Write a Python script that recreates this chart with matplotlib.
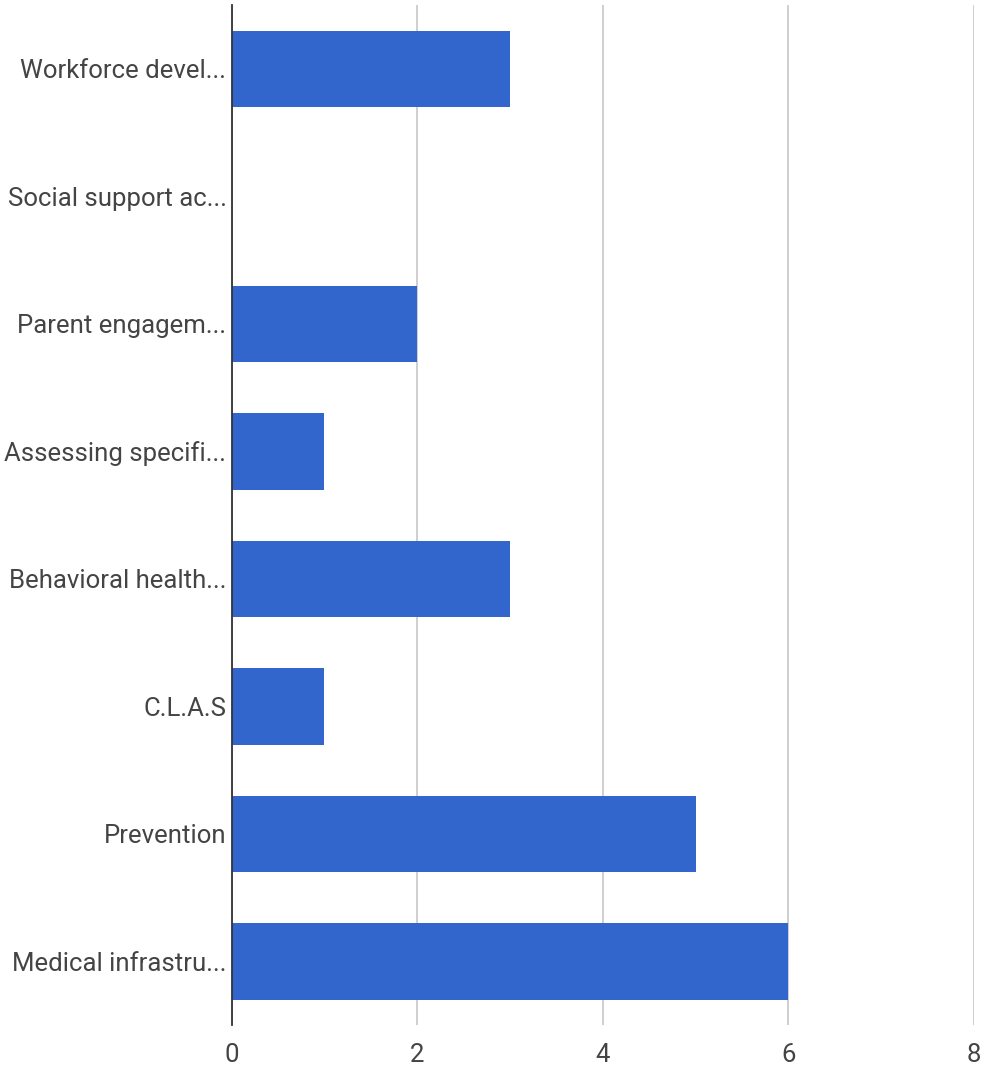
import matplotlib
matplotlib.use("Agg")
import matplotlib.pyplot as plt

categories = ["Workforce devel...", "Social support ac...", "Parent engagem...",
              "Assessing specifi...", "Behavioral health...", "C.L.A.S",
              "Prevention", "Medical infrastru..."]
values = [3, 0, 2, 1, 3, 1, 5, 6]
x_ticks = [0, 2, 4, 6, 8]

plt.rcParams['font.family'] = ['Roboto', 'DejaVu Sans']

fig = plt.figure(figsize=(9.81, 10.70), dpi=100)
ax = fig.add_axes([231.5/981, 45/1070, (974-231.5)/981, 1020/1070])

pos = list(range(len(categories)))
ax.barh(pos, values, height=0.6, color="#3366CC", zorder=3)
ax.set_ylim(len(categories) - 0.5, -0.5)
ax.set_xlim(0, 8)
ax.set_xticks(x_ticks)
ax.set_xticklabels([str(t) for t in x_ticks])
ax.set_yticks(pos)
ax.set_yticklabels(categories)

ax.grid(axis="x", color="#cccccc", linewidth=1.3, zorder=0)
ax.grid(axis="y", visible=False)
for s in ["top", "right", "bottom"]:
    ax.spines[s].set_visible(False)
ax.spines["left"].set_color("#333333")
ax.spines["left"].set_linewidth(1.3)
ax.spines["left"].set_zorder(4)

ax.tick_params(axis="y", length=0, pad=3.6, labelsize=18.5, labelcolor="#444444")
ax.tick_params(axis="x", length=0, pad=13, labelsize=18.5, labelcolor="#444444")

fig.savefig("out.png", dpi=100)
